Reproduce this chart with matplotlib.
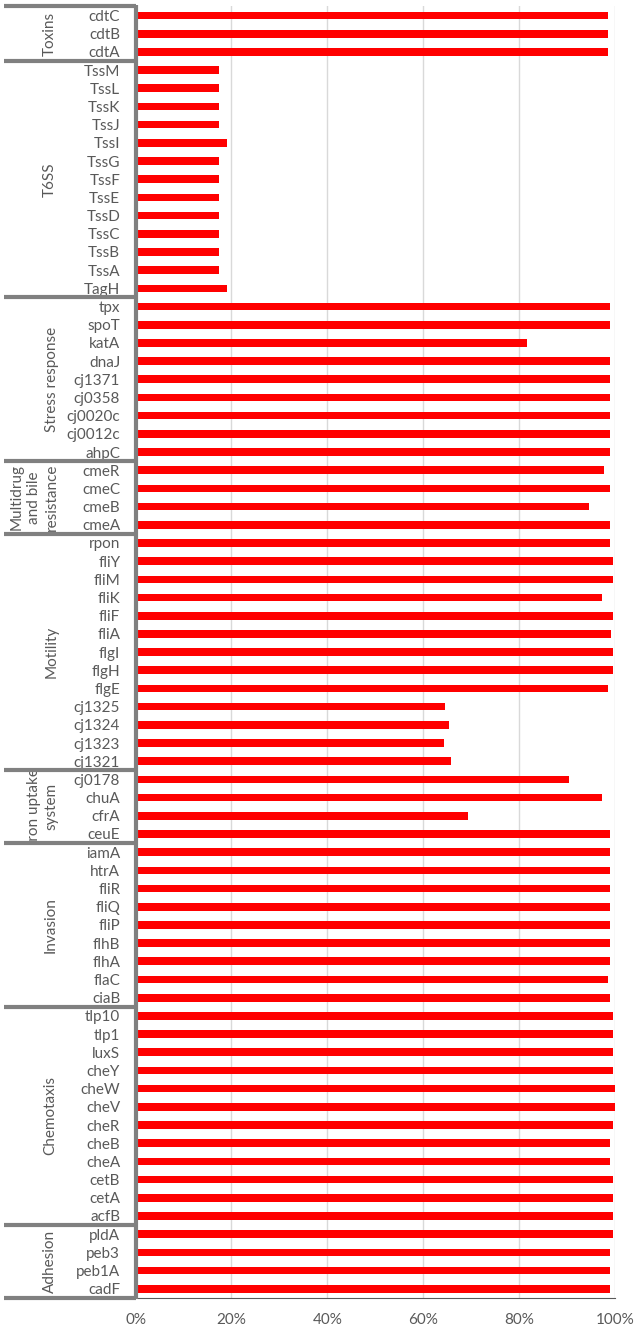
import matplotlib
matplotlib.use("Agg")
import matplotlib.pyplot as plt
import matplotlib.transforms as mtransforms

plt.rcParams['font.family'] = ['Lato', 'DejaVu Sans']

groups = ["Toxins", "T6SS", "Stress response", "Multidrug\nand bile\nresistance",
          "Motility", "Iron uptake\nsystem", "Invasion", "Chemotaxis", "Adhesion"]

toxins = ["cdtC", "cdtB", "cdtA"]
toxins_v = [98.5, 98.5, 98.5]

t6ss = ["TssM", "TssL", "TssK", "TssJ", "TssI", "TssG", "TssF", "TssE", "TssD",
        "TssC", "TssB", "TssA", "TagH"]
t6ss_v = [17.3, 17.3, 17.3, 17.3, 19.1, 17.3, 17.3, 17.3, 17.3, 17.3, 17.3, 17.3, 19.1]

stress = ["tpx", "spoT", "katA", "dnaJ", "cj1371", "cj0358", "cj0020c", "cj0012c", "ahpC"]
stress_v = [98.8, 98.8, 81.7, 98.8, 98.8, 98.8, 98.8, 98.8, 98.8]

multidrug = ["cmeR", "cmeC", "cmeB", "cmeA"]
multidrug_v = [97.6, 98.8, 94.6, 98.8]

motility = ["rpon", "fliY", "fliM", "fliK", "fliF", "fliA", "flgI", "flgH", "flgE",
            "cj1325", "cj1324", "cj1323", "cj1321"]
motility_v = [98.8, 99.6, 99.6, 97.3, 99.6, 99.2, 99.6, 99.6, 98.4, 64.5, 65.3, 64.2, 65.7]

iron = ["cj0178", "chuA", "cfrA", "ceuE"]
iron_v = [90.4, 97.3, 69.4, 98.8]

invasion = ["iamA", "htrA", "fliR", "fliQ", "fliP", "flhB", "flhA", "flaC", "ciaB"]
invasion_v = [98.8, 98.8, 98.8, 98.8, 98.8, 98.8, 98.8, 98.5, 98.8]

chemotaxis = ["tlp10", "tlp1", "luxS", "cheY", "cheW", "cheV", "cheR", "cheB", "cheA",
              "cetB", "cetA", "acfB"]
chemotaxis_v = [99.6, 99.6, 99.6, 99.6, 100, 100, 99.6, 98.8, 98.8, 99.6, 99.6, 99.6]

adhesion = ["pldA", "peb3", "peb1A", "cadF"]
adhesion_v = [99.6, 98.8, 98.8, 98.8]

xticks = [0, 20, 40, 60, 80, 100]
xtick_labels = ["0%", "20%", "40%", "60%", "80%", "100%"]

group_genes = [toxins, t6ss, stress, multidrug, motility, iron, invasion, chemotaxis, adhesion]
group_vals = [toxins_v, t6ss_v, stress_v, multidrug_v, motility_v, iron_v, invasion_v,
              chemotaxis_v, adhesion_v]
group_label_x = [50, 50, 52, 34, 52, 43, 51, 50, 50]  # pixel x of label centre

genes = [g for grp in group_genes for g in grp]
vals = [v for grp in group_vals for v in grp]
n = len(genes)

W, H = 638, 1329
fig = plt.figure(figsize=(W / 100, H / 100), dpi=100)
x0, x1 = 135.5, 615.3
ytop, ybot = 6.4, 1297.8
ax = fig.add_axes([x0 / W, 1 - ybot / H, (x1 - x0) / W, (ybot - ytop) / H])

txt = "#595959"
sep = "#808080"

ax.barh(range(n), vals, height=0.42, color="#FF0000", zorder=3)
ax.set_ylim(n - 0.5, -0.5)
ax.set_xlim(0, 100)
ax.set_xticks(xticks)
ax.set_xticklabels(xtick_labels, color=txt, fontsize=11)
ax.set_yticks(range(n))
ax.set_yticklabels(genes, color=txt, fontsize=11)
ax.tick_params(axis="y", length=0, pad=11)
ax.tick_params(axis="x", length=0, pad=11)
ax.grid(axis="x", color="#d9d9d9", linewidth=1.0, zorder=0)
for s in ["top", "right"]:
    ax.spines[s].set_visible(False)
ax.spines["bottom"].set_color("#595959")
ax.spines["bottom"].set_linewidth(0.8)
ax.spines["left"].set_visible(False)

trans = mtransforms.blended_transform_factory(ax.transAxes, ax.transData)
axw = x1 - x0
xl = (4 - x0) / axw
lw = 3.0

# left thick vertical line
ax.plot([0, 0], [-0.5 - 0.08, n - 0.5 + 0.05], transform=trans, color=sep,
        linewidth=lw, clip_on=False, zorder=5, solid_capstyle="butt")

start = 0
bounds = [-0.5]
for grp in group_genes:
    start += len(grp)
    bounds.append(start - 0.5)
for b in bounds:
    ax.plot([xl, 0], [b, b], transform=trans, color=sep, linewidth=lw,
            clip_on=False, zorder=5, solid_capstyle="butt")

for i, (lab, grp) in enumerate(zip(groups, group_genes)):
    yc = (bounds[i] + bounds[i + 1]) / 2
    xc = (group_label_x[i] - x0) / axw
    ax.text(xc, yc, lab, transform=trans, rotation=90, ha="center", va="center",
            multialignment="center", color=txt, fontsize=11, linespacing=1.35)

fig.savefig("out.png", dpi=100)
